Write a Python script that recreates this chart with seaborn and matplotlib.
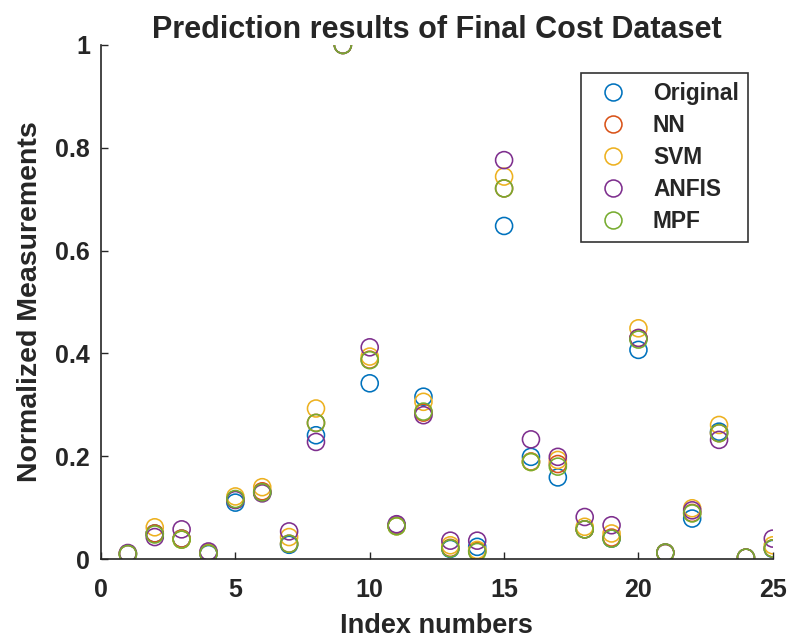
import matplotlib
matplotlib.use("Agg")
import matplotlib.pyplot as plt
import seaborn as sns
import pandas as pd
import numpy as np
from matplotlib.lines import Line2D

index = list(range(1, 26))
original = [0.010, 0.050, 0.040, 0.010, 0.110, 0.130, 0.028, 0.241, 1.000, 0.342,
            0.065, 0.316, 0.020, 0.024, 0.648, 0.199, 0.159, 0.058, 0.040, 0.407,
            0.012, 0.079, 0.248, 0.003, 0.020]
nn = [0.010, 0.050, 0.040, 0.011, 0.116, 0.132, 0.030, 0.265, 1.000, 0.388,
      0.065, 0.285, 0.022, 0.016, 0.721, 0.190, 0.185, 0.058, 0.042, 0.430,
      0.012, 0.090, 0.245, 0.003, 0.021]
svm = [0.011, 0.062, 0.038, 0.013, 0.122, 0.140, 0.043, 0.293, 1.000, 0.394,
       0.064, 0.306, 0.027, 0.018, 0.744, 0.189, 0.193, 0.063, 0.050, 0.449,
       0.013, 0.099, 0.261, 0.003, 0.027]
anfis = [0.012, 0.043, 0.058, 0.015, 0.115, 0.128, 0.054, 0.228, 1.000, 0.412,
         0.068, 0.280, 0.036, 0.036, 0.776, 0.233, 0.199, 0.082, 0.066, 0.430,
         0.013, 0.095, 0.232, 0.003, 0.040]
mpf = [0.010, 0.048, 0.038, 0.011, 0.117, 0.130, 0.030, 0.265, 1.000, 0.387,
       0.064, 0.287, 0.021, 0.014, 0.721, 0.189, 0.180, 0.058, 0.040, 0.427,
       0.013, 0.089, 0.245, 0.003, 0.021]

names = ["Original", "NN", "SVM", "ANFIS", "MPF"]
colors = ["#0072BD", "#D95319", "#EDB120", "#7E2F8E", "#77AC30"]
series = [original, nn, svm, anfis, mpf]

rows = []
for n, vals in zip(names, series):
    for i, v in zip(index, vals):
        rows.append({"Index": i, "Value": v, "Model": n})
df = pd.DataFrame(rows)

sns.set_style("ticks")
plt.rcParams["font.family"] = ["Liberation Sans", "DejaVu Sans"]
plt.rcParams["font.weight"] = "bold"

fig = plt.figure(figsize=(7.91, 6.42), dpi=100)
ax = fig.add_axes([0.1277, 0.129, 0.8493, 0.801])

for n, c in zip(names, colors):
    sub = df[df["Model"] == n]
    sns.scatterplot(data=sub, x="Index", y="Value", ax=ax, s=150,
                    facecolor="none", edgecolor=c, linewidth=1.15, legend=False)
for coll, c in zip(ax.collections, colors):
    coll.set_facecolor("none")
    coll.set_edgecolor(c)

ax.set_xlim(0, 25)
ax.set_ylim(0, 1)
ax.set_xticks([0, 5, 10, 15, 20, 25])
ax.set_yticks([0, 0.2, 0.4, 0.6, 0.8, 1])
ax.set_yticklabels(["0", "0.2", "0.4", "0.6", "0.8", "1"])
ax.tick_params(direction="in", labelsize=18, length=5, width=1)
ax.tick_params(axis="x", pad=13.5)
ax.tick_params(axis="y", pad=8)
for lab in ax.get_xticklabels() + ax.get_yticklabels():
    lab.set_fontweight("bold")
sns.despine(ax=ax)
for sp in ["left", "bottom"]:
    ax.spines[sp].set_linewidth(1.2)
ax.set_xlabel("Index numbers", fontsize=19.5, fontweight="bold", labelpad=8)
ax.set_ylabel("Normalized Measurements", fontsize=20.5, fontweight="bold", labelpad=9)
ax.set_title("Prediction results of Final Cost Dataset", fontsize=22,
             fontweight="bold", pad=5)

handles = [Line2D([], [], marker="o", linestyle="none", markersize=12.2,
                  markerfacecolor="none", markeredgecolor=c, markeredgewidth=1.15)
           for c in colors]
leg = ax.legend(handles, names, loc="upper right", bbox_to_anchor=(0.963, 0.946),
                frameon=True, fancybox=False, edgecolor="black",
                prop={"size": 16.4, "weight": "bold"}, handletextpad=0.75,
                borderpad=0.4, labelspacing=0.4, borderaxespad=0)
leg.get_frame().set_linewidth(1.2)

fig.savefig("out.png", dpi=100)
